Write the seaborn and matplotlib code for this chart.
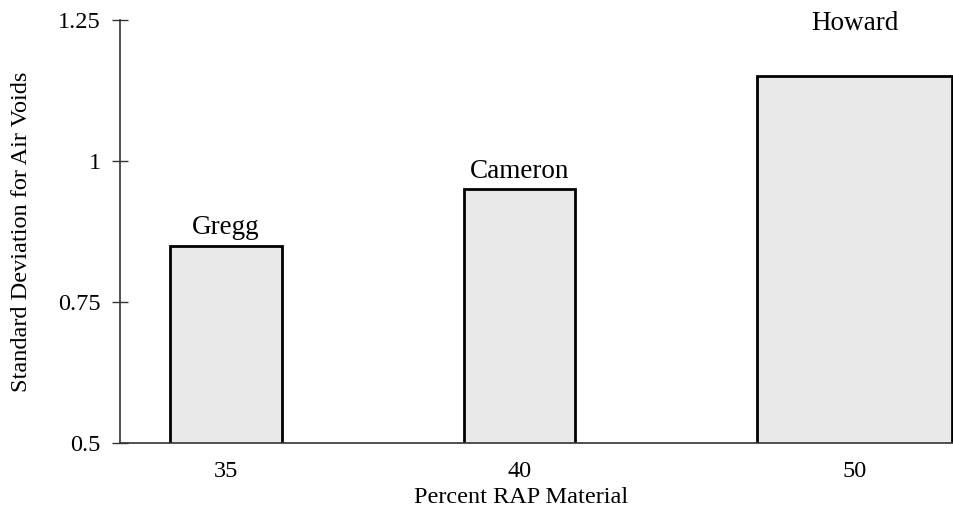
import matplotlib
matplotlib.use("Agg")
import matplotlib.pyplot as plt
import pandas as pd
import seaborn as sns

# data
rap_percent = ["35", "40", "50"]
std_air_voids = [0.85, 0.95, 1.15]
county = ["Gregg", "Cameron", "Howard"]

df = pd.DataFrame({"rap": rap_percent, "sd": std_air_voids, "county": county})

sns.set_style("white")
plt.rcParams["font.family"] = ["Liberation Serif", "DejaVu Serif"]
plt.rcParams["text.color"] = "black"
plt.rcParams["xtick.color"] = "black"
plt.rcParams["ytick.color"] = "black"
plt.rcParams["axes.labelcolor"] = "black"

fig = plt.figure(figsize=(9.54, 5.2), dpi=100)
ax = fig.add_axes([0.1258, 0.148, 0.8732, 0.8135])

sns.barplot(data=df, x="rap", y="sd", color="#e9e9e9", edgecolor="black",
            linewidth=2, width=0.38, saturation=1, ax=ax)

ax.set_ylim(0.5, 1.25)
ax.set_xlim(-0.361, 2.477)

# the last bar runs out to the right edge in the original figure
last = ax.patches[-1]
last.set_width(2.474 - last.get_x())
centers = [p.get_x() + p.get_width() / 2 for p in ax.patches]
ax.set_xticks(centers)
ax.set_xticklabels(rap_percent)

# county names above the bars
label_pad = [4, 4, 29]
for p, name, pad in zip(ax.patches, county, label_pad):
    ax.annotate(name, (p.get_x() + p.get_width() / 2, p.get_height()),
                xytext=(0, pad), textcoords="offset points",
                ha="center", va="bottom", fontsize=19.5)

ax.set_yticks([0.5, 0.75, 1.0, 1.25])
ax.set_yticklabels(["0.5", "0.75", "1", "1.25"])

for side in ["top", "right"]:
    ax.spines[side].set_visible(False)
for side in ["left", "bottom"]:
    ax.spines[side].set_color("#333333")
    ax.spines[side].set_linewidth(1.2)

ax.tick_params(axis="y", left=True, direction="inout", length=12, width=1,
               color="#333333", labelsize=17.5, pad=8)
ax.tick_params(axis="x", bottom=False, length=0, labelsize=17.5, pad=13)

ax.set_xlabel("Percent RAP Material", fontsize=17.5)
ax.xaxis.set_label_coords(0.482, -0.105)
ax.set_ylabel("Standard Deviation for Air Voids", fontsize=17.5)
ax.yaxis.set_label_coords(-0.106, 0.5)

fig.savefig("out.png", dpi=100)
